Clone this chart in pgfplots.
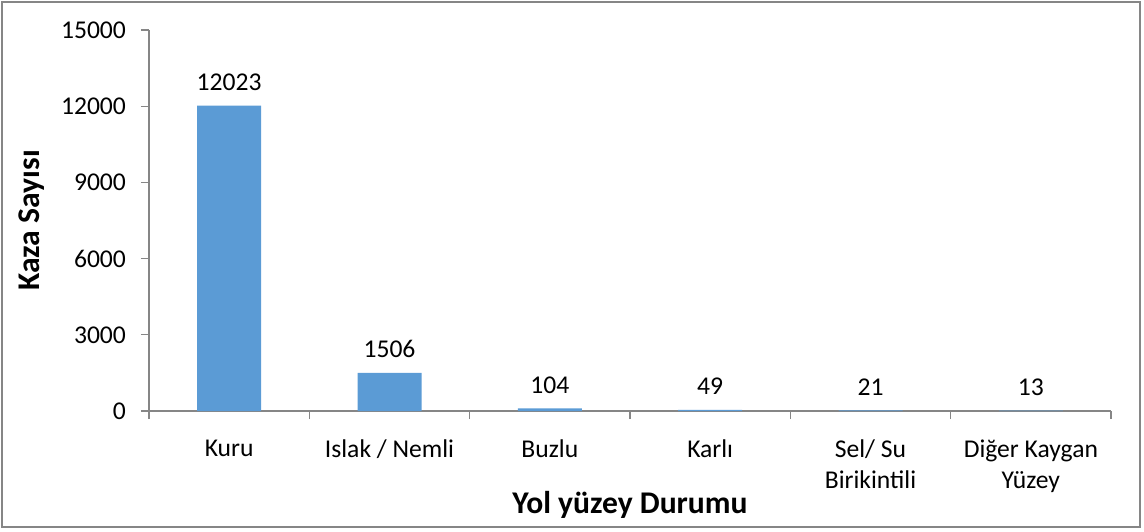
\documentclass[border=0pt]{standalone}
\usepackage{pgfplots}
\pgfplotsset{compat=1.18}
\usetikzlibrary{calc}
\usepackage{fontspec}
\setmainfont{Carlito}
\definecolor{barblue}{HTML}{5B9BD5}
\definecolor{axgray}{HTML}{868686}
\begin{document}
\begin{tikzpicture}
\begin{axis}[
  scale only axis, width=481pt, height=190.5pt,
  xmin=0.5, xmax=6.5, ymin=0, ymax=15000,
  axis lines*=left,
  axis line style={draw=axgray, line width=0.6pt, -},
  ytick={0,3000,6000,9000,12000,15000},
  xtick={1,2,3,4,5,6},
  xticklabels={Kuru, Islak / Nemli, Buzlu, Karlı, Sel/ Su\\Birikintili, Diğer Kaygan\\Yüzey},
  minor xtick={0.5,1.5,2.5,3.5,4.5,5.5,6.5},
  xtick style={draw=none},
  minor x tick style={draw=axgray, line width=0.6pt},
  ytick style={draw=axgray, line width=0.6pt},
  tick align=outside,
  major tick length=4pt, minor tick length=4pt,
  /pgf/number format/assume math mode=true,
  scaled y ticks=false,
  yticklabel={\pgfmathprintnumber[fixed,1000 sep={}]{\tick}},
  tick label style={font=\fontsize{12.8}{15.5}\selectfont, text=black},
  xticklabel style={align=center, anchor=north, yshift=-7pt},
  yticklabel style={anchor=east, xshift=-4pt},
  xlabel={\textbf{Yol yüzey Durumu}},
  ylabel={\textbf{Kaza Sayısı}},
  xlabel style={at={(axis description cs:0.5,-0.2467)}, anchor=center, font=\fontsize{15.8}{18}\selectfont},
  ylabel style={at={(axis description cs:-0.1216,0.5)}, anchor=center, font=\fontsize{15.8}{18}\selectfont},
  ybar, bar width=32pt,
  nodes near coords,
  nodes near coords style={font=\fontsize{12.8}{15}\selectfont, text=black, /pgf/number format/1000 sep={}, /pgf/number format/assume math mode=true, yshift=4pt},
  clip=false,
]
\addplot[fill=barblue, draw=none] coordinates {(1,12023) (2,1506) (3,104) (4,49) (5,21) (6,13)};
\coordinate (O) at (rel axis cs:0,0);
\end{axis}
\useasboundingbox ($(O)+(-74.5pt,-60pt)$) rectangle ($(O)+(497.5pt,205.5pt)$);
\draw[axgray, line width=0.6pt] ($(O)+(-73.5pt,-58pt)$) rectangle ($(O)+(495.5pt,204.5pt)$);
\end{tikzpicture}
\end{document}
